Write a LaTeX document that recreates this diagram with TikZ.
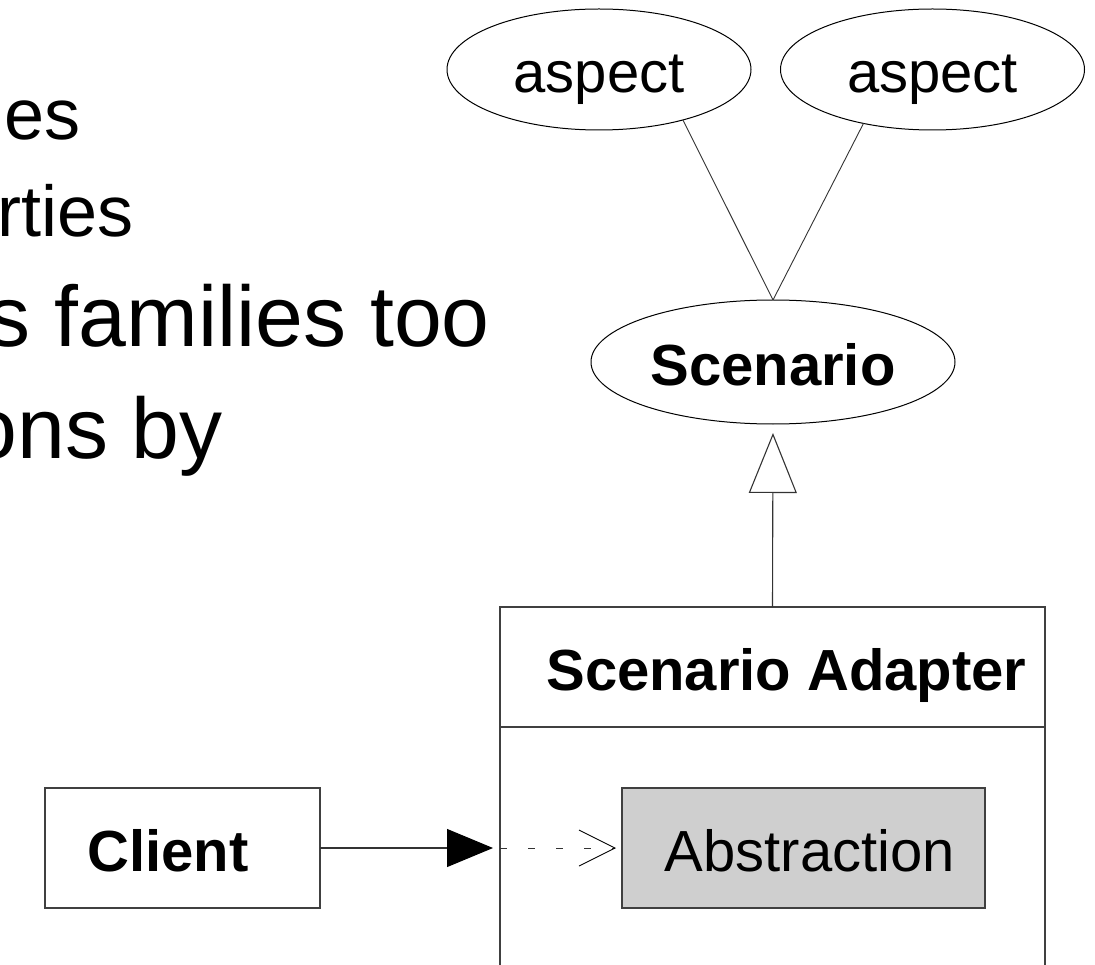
\documentclass[tikz,border=0pt]{standalone}
\usepackage{fontspec}
\setmainfont{Liberation Sans}
\usetikzlibrary{shapes.geometric,arrows.meta}
\definecolor{boxgray}{RGB}{207,207,207}
\begin{document}
\begin{tikzpicture}[x=1pt,y=-1pt,
  bullet/.style={anchor=base east, inner sep=0, font=\fontsize{86}{90}\selectfont},
  subbullet/.style={anchor=base east, inner sep=0, font=\fontsize{72}{76}\selectfont},
  dlabel/.style={inner sep=0, font=\fontsize{58}{62}\selectfont, text height=55pt, text depth=9pt},
  dbold/.style={dlabel, font=\fontsize{58}{62}\selectfont\bfseries},
  oval/.style={ellipse, draw=black, line width=1pt, inner sep=0, outer sep=0},
  umlbox/.style={rectangle, draw=black!75, line width=1.3pt, inner sep=0, outer sep=0},
  link/.style={draw=black!80, line width=1.1pt}]
\useasboundingbox (0,0) rectangle (1095,965);
\clip (0,0) rectangle (1095,965);

% slide text running in from the left
\node[subbullet] (line1) at (81,140) {es};
\node[subbullet] (line2) at (134,237) {rties};
\node[bullet] (line3) at (490,347) {s families too};
\node[bullet] (line4) at (223,458) {ons by};

% aspects and scenario
\node[oval, dlabel, minimum width=304pt, minimum height=121pt] (asp1) at (599,69.5) {aspect};
\node[oval, dlabel, minimum width=304pt, minimum height=121pt] (asp2) at (932.5,69.5) {aspect};
\node[oval, dbold, minimum width=364pt, minimum height=124pt] (scen) at (773,362) {Scenario};

% scenario adapter class box
\node[umlbox, minimum width=545pt, minimum height=403pt] (adapter) at (772.5,808.5) {};
\node[dbold] (adaptertitle) at (786.5,667) {Scenario Adapter};
\draw[umlbox] (adapter.north west) ++(0,120) -- ++(545,0);

% client and abstraction
\node[umlbox, minimum width=275pt, minimum height=120pt] (client) at (182.5,848) {};
\node[dbold] (clienttext) at (168,848) {Client};
\node[umlbox, fill=boxgray, minimum width=363pt, minimum height=120pt] (abstr) at (803.5,848) {};
\node[dlabel] (abstrtext) at (810,848) {Abstraction};

% connectors
\draw[link, line width=0.9pt] (asp1.-31) -- (scen.north);
\draw[link, line width=0.9pt] (asp2.-142.4) -- (scen.north);
\draw[link, -{Triangle[open, length=60pt, width=48pt]}, shorten >=9pt] (adapter.north) -- (scen.south);
\draw[link, -{Triangle[length=46pt, width=38pt, fill=black, color=black]}, shorten >=7pt]
  (client.east) -- (client.east -| adapter.west);
\draw[link, line width=0.9pt, dash pattern=on 7pt off 21pt, -{Straight Barb[length=36pt, width=36pt, color=black]}, shorten >=6pt]
  (client.east -| adapter.west) -- (abstr.west);
\end{tikzpicture}
\end{document}
